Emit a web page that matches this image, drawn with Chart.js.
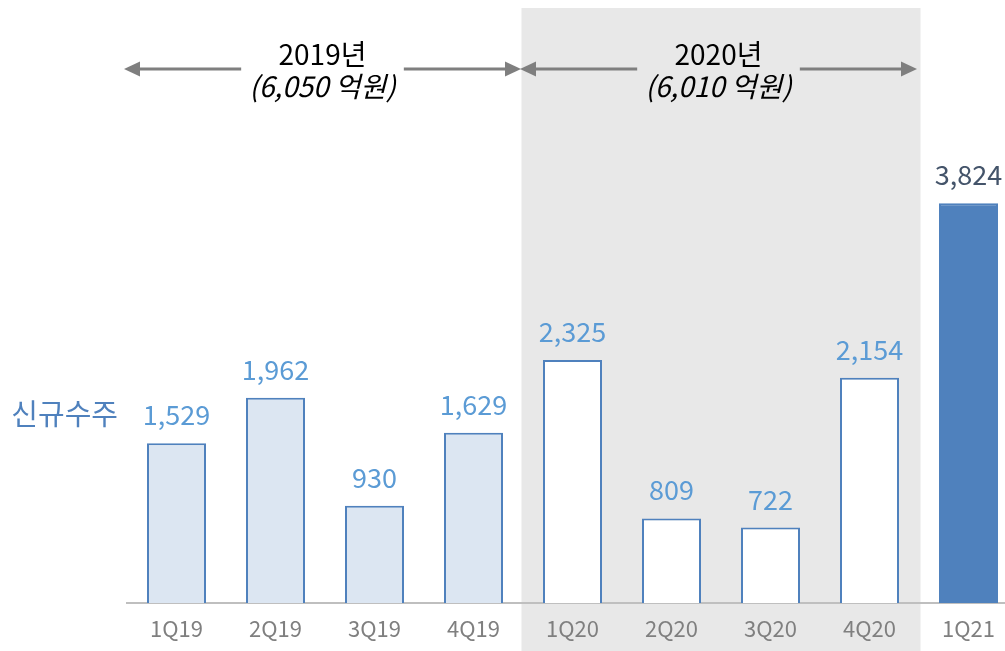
<!DOCTYPE html>
<html>
<head>
<meta charset="utf-8">
<script src="https://cdn.jsdelivr.net/npm/chart.js@4.4.1/dist/chart.umd.min.js"></script>
<style>
  html, body { margin: 0; padding: 0; background: #ffffff; overflow: hidden; }
  #wrap { position: absolute; left: 0; top: 0; width: 1018px; height: 651px; }
</style>
</head>
<body>
<div id="wrap"><canvas id="c" width="1018" height="651"></canvas></div>
<script>
// ---- data ----
const categories = ['1Q19', '2Q19', '3Q19', '4Q19', '1Q20', '2Q20', '3Q20', '4Q20', '1Q21'];
const orders = [1529, 1962, 930, 1629, 2325, 809, 722, 2154, 3824];
const barGroup = [0, 0, 0, 0, 1, 1, 1, 1, 2];
const seriesName = '신규수주';
const periodLabels = ['2019년', '2020년'];
const periodTotals = ['(6,050 억원)', '(6,010 억원)'];
const periodFirst = [0, 4];
const periodLast = [3, 7];
const shadedFirst = 4;
const shadedLast = 7;

// ---- styles ----
const FONT = "'Noto Sans CJK KR', 'Noto Sans', sans-serif";
const groupFill = ['#dce6f2', '#ffffff', '#4f81bd'];
const groupBorder = ['#4f81bd', '#4f81bd', '#4f81bd'];
const groupLabel = ['#5b9bd5', '#5b9bd5', '#44546a'];

const fmt = v => v.toLocaleString('en-US');

const decorPlugin = {
  id: 'decor',
  beforeDraw(chart) {
    const ctx = chart.ctx, x = chart.scales.x;
    const half = (x.getPixelForValue(1) - x.getPixelForValue(0)) / 2;
    const x0 = x.getPixelForValue(shadedFirst) - half - 1.5;
    const x1 = x.getPixelForValue(shadedLast) + half + 1.5;
    ctx.save();
    ctx.fillStyle = '#e8e8e8';
    ctx.fillRect(x0, 8, x1 - x0, chart.height - 8);
    ctx.restore();
  },
  afterDatasetsDraw(chart) {
    const ctx = chart.ctx;
    const meta = chart.getDatasetMeta(0);
    ctx.save();
    ctx.font = '27px ' + FONT;
    ctx.textAlign = 'center';
    ctx.textBaseline = 'alphabetic';
    meta.data.forEach((bar, i) => {
      ctx.fillStyle = groupLabel[barGroup[i]];
      ctx.fillText(fmt(orders[i]), bar.x, bar.y - 18);
    });
    // series name
    ctx.fillStyle = '#4f81bd';
    ctx.textAlign = 'right';
    ctx.font = '29px ' + FONT;
    ctx.fillText(seriesName, chart.chartArea.left - 9, 425);
    ctx.restore();
  },
  afterDraw(chart) {
    const ctx = chart.ctx, x = chart.scales.x;
    const half = (x.getPixelForValue(1) - x.getPixelForValue(0)) / 2;
    const ay = 69;
    ctx.save();
    periodLabels.forEach((lab, k) => {
      const left = x.getPixelForValue(periodFirst[k]) - half - 3;
      const right = x.getPixelForValue(periodLast[k]) + half - 2;
      const mid = (left + right) / 2;
      ctx.fillStyle = '#000000';
      ctx.textAlign = 'center';
      ctx.textBaseline = 'alphabetic';
      ctx.font = '28px ' + FONT;
      ctx.fillText(lab, mid, 65);
      ctx.font = 'italic 28px ' + FONT;
      ctx.fillText(periodTotals[k], mid, 97);
      const gap = ctx.measureText(periodTotals[k]).width / 2 + 8;
      ctx.strokeStyle = '#7f7f7f';
      ctx.fillStyle = '#7f7f7f';
      ctx.lineWidth = 3;
      ctx.beginPath();
      ctx.moveTo(left + 12, ay); ctx.lineTo(mid - gap, ay);
      ctx.moveTo(mid + gap, ay); ctx.lineTo(right - 12, ay);
      ctx.stroke();
      ctx.beginPath();
      ctx.moveTo(left, ay); ctx.lineTo(left + 16, ay - 7.5); ctx.lineTo(left + 16, ay + 7.5); ctx.closePath();
      ctx.fill();
      ctx.beginPath();
      ctx.moveTo(right, ay); ctx.lineTo(right - 16, ay - 7.5); ctx.lineTo(right - 16, ay + 7.5); ctx.closePath();
      ctx.fill();
    });
    ctx.restore();
  }
};

new Chart(document.getElementById('c'), {
  type: 'bar',
  data: {
    labels: categories,
    datasets: [{
      label: seriesName,
      data: orders,
      backgroundColor: barGroup.map(g => groupFill[g]),
      borderColor: barGroup.map(g => groupBorder[g]),
      borderWidth: 2,
      borderSkipped: 'start',
      categoryPercentage: 1,
      barPercentage: 0.596
    }]
  },
  options: {
    responsive: false,
    animation: false,
    events: [],
    layout: { padding: { left: 127, right: 0, top: 7, bottom: 0 } },
    plugins: { legend: { display: false }, tooltip: { enabled: false }, title: { display: false } },
    scales: {
      x: {
        grid: { display: false, drawTicks: false },
        border: { display: true, color: '#bfbfbf', width: 2 },
        ticks: { color: '#7f7f7f', font: { family: FONT, size: 22 }, padding: 12, maxRotation: 0 },
        afterFit(scale) { scale.height = 48; }
      },
      y: { display: false, min: 0, max: 5700 }
    }
  },
  plugins: [decorPlugin]
});
</script>
</body>
</html>
